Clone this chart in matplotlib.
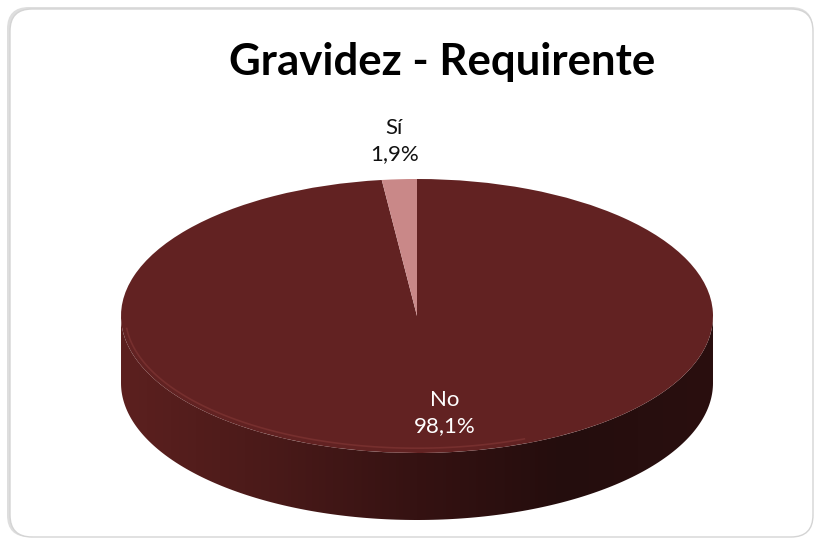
import numpy as np
import matplotlib
matplotlib.use("Agg")
import matplotlib.pyplot as plt
from matplotlib.patches import FancyBboxPatch, Polygon
from matplotlib.colors import LinearSegmentedColormap

plt.rcParams["font.family"] = ["Lato", "DejaVu Sans"]

TITLE = "Gravidez - Requirente"
categories = ["No", "Sí"]
values = [98.1, 1.9]
slice_colors = ["#622222", "#c98888"]
label_colors = ["white", "#111111"]

# pie geometry in pixels (ellipse on a flat canvas)
W, H = 816, 542
CX, CY, RX, RY = 417, 316, 296, 137
DEPTH = 67 / RY

fig = plt.figure(figsize=(W / 100, H / 100), dpi=100)
fig.patch.set_facecolor("white")

# rounded frame with a soft shadow
shadow = FancyBboxPatch((7, 5), 806, 530, boxstyle="round,pad=0,rounding_size=22",
                        transform=None, facecolor="#c8c8c8", edgecolor="none",
                        alpha=0.6, zorder=-2)
frame = FancyBboxPatch((10, 5), 803, 528, boxstyle="round,pad=0,rounding_size=22",
                       transform=None, facecolor="white", edgecolor="#d4d4d4",
                       lw=1, zorder=-1)
fig.patches.extend([shadow, frame])

ax = fig.add_axes([0, 0, 1, 1])
ax.patch.set_alpha(0)

wedges, _ = ax.pie(values, colors=slice_colors, startangle=90, counterclock=False,
                   radius=1, center=(0, 0), wedgeprops=dict(linewidth=0))
for w in wedges:
    w.set_zorder(3)

ax.set_aspect("auto")
xlim = (-CX / RX, (W - CX) / RX)
ylim = (-(H - CY) / RY, CY / RY)

# side wall of the front half, shaded darker to the right
ang = np.linspace(np.pi, 2 * np.pi, 200)
top_edge = np.column_stack([np.cos(ang), np.sin(ang)])
bot_edge = np.column_stack([np.cos(ang[::-1]), np.sin(ang[::-1]) - DEPTH])
side = Polygon(np.vstack([top_edge, bot_edge]), closed=True, facecolor="none",
               edgecolor="none")
ax.add_patch(side)
side_cmap = LinearSegmentedColormap.from_list(
    "side", ["#5c201f", "#4a1a19", "#351212", "#240d0d", "#2a0f0f"])
grad = np.linspace(0, 1, 256).reshape(1, -1)
img = ax.imshow(grad, cmap=side_cmap, aspect="auto", extent=(-1, 1, -1 - DEPTH, 0),
                zorder=2, interpolation="bilinear")
img.set_clip_path(side)

# light bevel along the front rim
rim = np.linspace(np.pi * 1.03, np.pi * 1.62, 100)
ax.plot(np.cos(rim) * 0.985, np.sin(rim) * 0.965, color="#8a3c3a", lw=1.2,
        alpha=0.5, zorder=4)

ax.set_xlim(xlim)
ax.set_ylim(ylim)
ax.axis("off")

# data labels
start = 90.0
for cat, v, lc in zip(categories, values, label_colors):
    span = v / sum(values) * 360
    mid = np.deg2rad(start - span / 2)
    start -= span
    r = 1.28 if v < 10 else 0.71
    x, y = r * np.cos(mid), r * np.sin(mid)
    if v >= 10:
        x += 0.05
    pct = f"{v:.1f}%".replace(".", ",")
    ax.text(x, y, f"{cat}\n{pct}", ha="center", va="center", fontsize=16,
            color=lc, linespacing=1.4, zorder=5)

fig.text(442 / W, 1 - 62 / H, TITLE, ha="center", va="center",
         fontsize=31.5, fontweight="bold", color="black")

fig.savefig("out.png", dpi=100)
